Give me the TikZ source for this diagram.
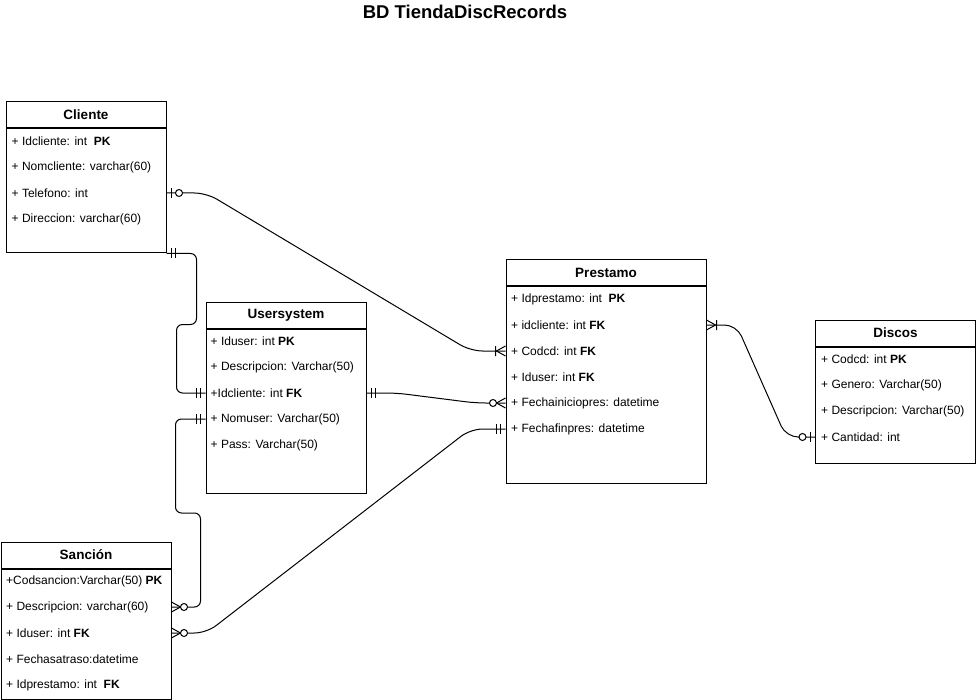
\documentclass[tikz,border=0pt]{standalone}
\usepackage{fontspec}
\setmainfont{Liberation Sans}
\usetikzlibrary{positioning}

\begin{document}
\begin{tikzpicture}[x=1pt, y=-1pt,
            title/.style={font=\fontsize{18.5}{20}\selectfont\bfseries},
            header/.style={rectangle, draw, line width=1pt, anchor=north west, minimum height=26, inner sep=0, font=\fontsize{13.5}{15}\selectfont\bfseries},
            body/.style={rectangle, draw, line width=1pt, anchor=north, inner sep=0},
            attr/.style={anchor=west, inner sep=0, font=\fontsize{12}{14}\selectfont},
            conn/.style={line width=1pt},
            erone/.pic={\draw[conn] (5,-5) -- (5,5) (9,-5) -- (9,5);},
            erzeroone/.pic={\draw[conn] (5,-5) -- (5,5); \draw[conn, fill=white] (12.5,0) circle (3.5pt);},
            eronemany/.pic={\draw[conn] (0,-5) -- (9,0) -- (0,5) (10,-5) -- (10,5);},
            erzeromany/.pic={\draw[conn] (0,-5) -- (9,0) -- (0,5); \draw[conn, fill=white] (12.5,0) circle (3.5pt);}
        ]
            \useasboundingbox (0,0) rectangle (976,700);

% Title
            \node[title] (ttl) at (465,12) {BD TiendaDiscRecords};

% Cliente
            \node[header, minimum width=160] (clihead) at (5.5,101.5) {Cliente};
            \node[body, minimum width=160, minimum height=124] (clibox) at (clihead.south) {};
            \node[attr] (cli1) at (11.5,141) {+ Idcliente: int\ \ \textbf{PK}};
            \node[attr] (cli2) at (11.5,167) {+ Nomcliente: varchar(60)};
            \node[attr] (cli3) at (11.5,193) {+ Telefono: int};
            \node[attr] (cli4) at (11.5,219) {+ Direccion: varchar(60)};

% Usersystem
            \node[header, minimum width=160] (ushead) at (205.5,301.5) {Usersystem};
            \node[body, minimum width=160, minimum height=164] (usbox) at (ushead.south) {};
            \node[attr] (us1) at (210.5,341) {+ Iduser: int \textbf{PK}};
            \node[attr] (us2) at (210.5,367) {+ Descripcion: Varchar(50)};
            \node[attr] (us3) at (210.5,393) {+Idcliente: int \textbf{FK}};
            \node[attr] (us4) at (210.5,419) {+ Nomuser: Varchar(50)};
            \node[attr] (us5) at (210.5,445) {+ Pass: Varchar(50)};

% Prestamo
            \node[header, minimum width=200] (prehead) at (505.5,259.5) {Prestamo};
            \node[body, minimum width=200, minimum height=196] (prebox) at (prehead.south) {};
            \node[attr] (pre1) at (511,299) {+ Idprestamo: int\ \ \textbf{PK}};
            \node[attr] (pre2) at (511,325) {+ idcliente: int \textbf{FK}};
            \node[attr] (pre3) at (511,351) {+ Codcd: int \textbf{FK}};
            \node[attr] (pre4) at (511,377) {+ Iduser: int \textbf{FK}};
            \node[attr] (pre5) at (511,403) {+ Fechainiciopres: datetime};
            \node[attr] (pre6) at (511,429) {+ Fechafinpres: datetime};

% Discos
            \node[header, minimum width=160] (dishead) at (815,319.5) {Discos};
            \node[body, minimum width=160, minimum height=116] (disbox) at (dishead.south) {};
            \node[attr] (dis1) at (821,359) {+ Codcd: int \textbf{PK}};
            \node[attr] (dis2) at (821,385) {+ Genero: Varchar(50)};
            \node[attr] (dis3) at (821,411) {+ Descripcion: Varchar(50)};
            \node[attr] (dis4) at (821,437) {+ Cantidad: int};

% Sancion
            \node[header, minimum width=170] (sanhead) at (0.5,541.5) {Sanción};
            \node[body, minimum width=170, minimum height=130] (sanbox) at (sanhead.south) {};
            \node[attr] (san1) at (6,581) {+Codsancion:Varchar(50) \textbf{PK}};
            \node[attr] (san2) at (6,607) {+ Descripcion: varchar(60)};
            \node[attr] (san3) at (6,633) {+ Iduser: int \textbf{FK}};
            \node[attr] (san4) at (6,659) {+ Fechasatraso:datetime};
            \node[attr] (san5) at (6,685) {+ Idprestamo: int\ \ \textbf{FK}};

% Relations
            \draw[conn, rounded corners=12pt] (clibox.east |- cli3.west) -- ++(40,0) -- ([xshift=-35pt]prebox.west |- pre3.west) -- (prebox.west |- pre3.west);
            \draw[conn, rounded corners=6pt] (clibox.south east) -- ++(30,0) -- ++(0,71) -- ++(-20,0) |- (usbox.west |- us3.west);
            \draw[conn, rounded corners=10pt] (usbox.east |- us3.west) -- ++(30,0) -- ([xshift=-30pt]prebox.west |- pre5.west) -- (prebox.west |- pre5.west);
            \draw[conn, rounded corners=6pt] (usbox.west |- us4.west) -- ++(-30,0) -- ++(0,94) -- ++(25,0) |- (sanbox.east |- san2.west);
            \draw[conn, rounded corners=12pt] (prebox.west |- pre6.west) -- ++(-35,0) -- ([xshift=35pt]sanbox.east |- san3.west) -- (sanbox.east |- san3.west);
            \draw[conn, rounded corners=12pt] (prebox.east |- pre2.west) -- ++(30,0) -- ([xshift=-29pt]disbox.west |- dis4.west) -- (disbox.west |- dis4.west);

% Relation ends
            \pic at (clibox.east |- cli3.west) {erzeroone};
            \pic[xscale=-1] at (prebox.west |- pre3.west) {eronemany};
            \pic at (clibox.south east) {erone};
            \pic[xscale=-1] at (usbox.west |- us3.west) {erone};
            \pic at (usbox.east |- us3.west) {erone};
            \pic[xscale=-1] at (prebox.west |- pre5.west) {erzeromany};
            \pic[xscale=-1] at (usbox.west |- us4.west) {erone};
            \pic at (sanbox.east |- san2.west) {erzeromany};
            \pic[xscale=-1] at (prebox.west |- pre6.west) {erone};
            \pic at (sanbox.east |- san3.west) {erzeromany};
            \pic at (prebox.east |- pre2.west) {eronemany};
            \pic[xscale=-1] at (disbox.west |- dis4.west) {erzeroone};

        \end{tikzpicture}
\end{document}
